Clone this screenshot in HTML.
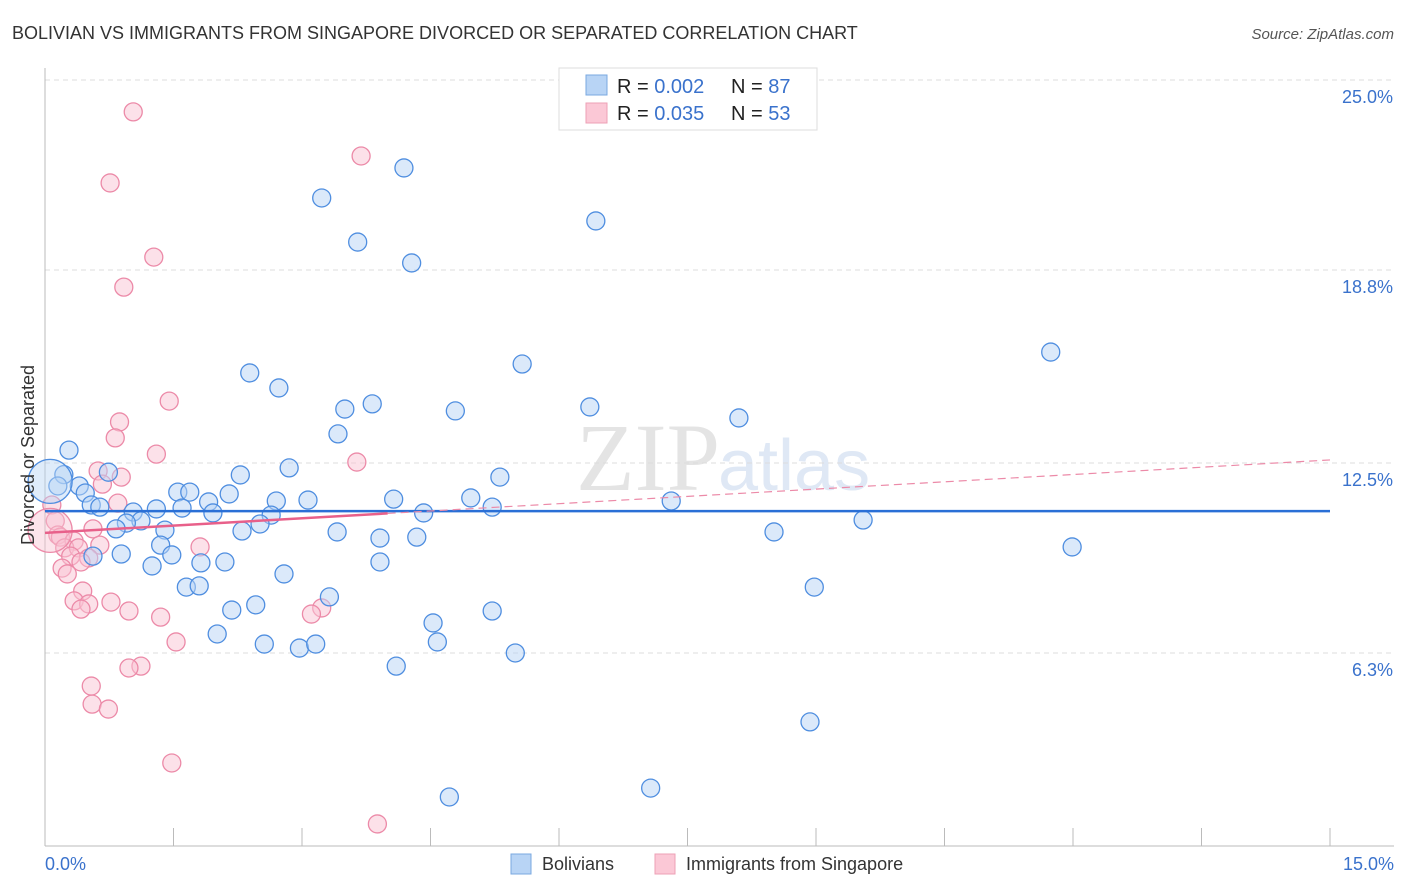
<!DOCTYPE html>
<html><head><meta charset="utf-8"><style>
body{margin:0;background:#fff;font-family:"Liberation Sans",sans-serif;}
svg{display:block}
</style></head><body>
<svg id="chart" width="1406" height="892" xmlns="http://www.w3.org/2000/svg">
<text x="12" y="39" font-size="18" fill="#333">BOLIVIAN VS IMMIGRANTS FROM SINGAPORE DIVORCED OR SEPARATED CORRELATION CHART</text>
<text x="1394" y="39" font-size="15" fill="#555" font-style="italic" text-anchor="end">Source: ZipAtlas.com</text>
<text x="720" y="490" font-size="96" fill="#e4e4e4" text-anchor="end" font-family="Liberation Serif">ZIP</text>
<text x="718" y="490" font-size="72" fill="#dfe8f5">atlas</text>
<g id="grid"></g>
<g id="axes"></g>
<g id="pts"></g>
<g id="trend"></g>
<text x="34" y="455" font-size="18" fill="#333" text-anchor="middle" transform="rotate(-90 34 455)">Divorced or Separated</text>
<text x="45" y="870" font-size="18" fill="#3a72cc">0.0%</text>
<text x="1394" y="870" font-size="18" fill="#3a72cc" text-anchor="end">15.0%</text>
<g>
<rect x="511" y="854" width="20" height="20" fill="#b8d4f5" stroke="#7aa8e0"/>
<text x="542" y="870" font-size="18" fill="#333">Bolivians</text>
<rect x="655" y="854" width="20" height="20" fill="#fbc8d6" stroke="#eea0b6"/>
<text x="686" y="870" font-size="18" fill="#333">Immigrants from Singapore</text>
</g>
<g>
<rect x="559" y="68" width="258" height="62" fill="#fff" stroke="#ddd"/>
<rect x="586" y="75" width="21" height="20" fill="#b8d4f5" stroke="#7aa8e0"/>
<rect x="586" y="103" width="21" height="20" fill="#fbc8d6" stroke="#eea0b6"/>
<text x="617" y="93" font-size="20" fill="#222">R = <tspan fill="#3a72cc">0.002</tspan><tspan x="731">N = </tspan><tspan fill="#3a72cc">87</tspan></text>
<text x="617" y="120" font-size="20" fill="#222">R = <tspan fill="#3a72cc">0.035</tspan><tspan x="731">N = </tspan><tspan fill="#3a72cc">53</tspan></text>
</g>
</svg>
<script>
const yTicks=[25.0,18.8,12.5,6.3];
const yTickLabels=["25.0%","18.8%","12.5%","6.3%"];
const xTicks=[0,1.5,3,4.5,6,7.5,9,10.5,12,13.5,15];
const blueX=[4.19,3.23,6.43,3.65,4.28,11.74,5.57,2.39,2.73,3.82,3.50,4.79,6.36,8.10,3.42,0.28,2.85,2.28,5.31,0.22,0.74,0.15,0.40,0.47,1.55,1.69,2.15,1.91,2.70,3.07,4.07,4.97,7.31,0.54,0.64,1.03,1.30,1.60,1.96,2.64,4.42,5.22,1.12,0.95,0.83,2.51,2.30,1.40,3.41,3.91,4.34,8.51,9.55,1.35,0.89,0.56,1.48,11.99,1.25,1.82,2.10,3.91,2.79,1.65,1.80,8.98,3.32,2.46,2.18,5.22,4.53,2.01,2.56,2.97,3.16,4.58,5.49,4.10,8.93,4.72,7.07,0.06];
const blueY=[22.13,21.15,20.40,19.71,19.03,16.12,15.73,15.44,14.95,14.43,14.26,14.20,14.33,13.97,13.45,12.92,12.34,12.11,12.04,12.12,12.20,11.75,11.75,11.52,11.55,11.55,11.49,11.23,11.26,11.29,11.32,11.36,11.26,11.13,11.06,10.90,11.00,11.03,10.87,10.80,10.87,11.06,10.61,10.54,10.35,10.51,10.28,10.31,10.25,10.05,10.08,10.25,10.64,9.82,9.53,9.46,9.50,9.76,9.14,9.24,9.27,9.27,8.88,8.45,8.49,8.45,8.13,7.87,7.70,7.67,7.28,6.92,6.59,6.46,6.59,6.66,6.30,5.87,4.05,1.60,1.89,11.9];
const pinkX=[1.03,3.69,0.76,1.27,0.92,1.45,0.87,0.82,1.30,3.64,0.62,0.89,0.67,0.85,0.08,0.12,0.56,0.15,0.18,0.34,0.64,0.23,0.39,1.81,0.30,0.51,0.42,0.20,0.26,0.44,0.34,0.51,0.77,0.42,0.98,1.35,3.23,3.11,1.53,1.12,0.98,0.54,0.55,0.74,1.48,3.88,0.06];
const pinkY=[23.96,22.52,21.64,19.22,18.24,14.52,13.84,13.32,12.79,12.53,12.24,12.04,11.81,11.19,11.13,10.61,10.35,10.15,10.08,9.95,9.82,9.73,9.73,9.76,9.46,9.40,9.27,9.07,8.88,8.32,8.00,7.90,7.96,7.73,7.67,7.47,7.77,7.57,6.66,5.87,5.81,5.22,4.63,4.47,2.71,0.72,10.3];
const blueTrend=[10.93,10.93];
const pinkTrend=[10.22,12.60];
const pinkSolidEnd=4.0;
const NS="http://www.w3.org/2000/svg";
const X0=45,X1=1330,Y25=80,PXPER=30.64;
const sx=v=>X0+(X1-X0)*v/15;
const sy=v=>Y25+(25-v)*PXPER;
function mk(tag,attrs,parent){const e=document.createElementNS(NS,tag);for(const k in attrs)e.setAttribute(k,attrs[k]);parent.appendChild(e);return e;}
const grid=document.getElementById('grid'),axes=document.getElementById('axes'),pts=document.getElementById('pts'),tr=document.getElementById('trend');
yTicks.forEach((t,i)=>{
 const l=mk('line',{x1:X0,x2:1394,y1:sy(t),y2:sy(t),stroke:'#ddd','stroke-dasharray':'5,4'},grid);
 
 
 const tx=mk('text',{x:1393,y:sy(t)+23,'font-size':18,fill:'#3a72cc','text-anchor':'end'},grid);
 tx.textContent=yTickLabels[i];
 
 
});
const ya=mk('line',{x1:X0,x2:X0,y1:68,y2:846,stroke:'#bbb'},axes);


const xa=mk('line',{x1:X0,x2:1394,y1:846,y2:846,stroke:'#bbb'},axes);


xTicks.forEach(t=>{
 const l=mk('line',{x1:sx(t),x2:sx(t),y1:828,y2:846,stroke:'#bbb'},axes);
 
 
});
function dots(xs,ys,fill,stroke,name){
 xs.forEach((x,i)=>{
  const big=i===xs.length-1;
  const c=mk('circle',{cx:sx(x),cy:sy(ys[i]),r:big?22:9,fill:fill,'fill-opacity':big?0.45:0.5,stroke:stroke,'stroke-width':1.3},pts);
  
  
 });
}
dots(pinkX,pinkY,'#f9c3d3','#ec8aa8','singapore-point');
dots(blueX,blueY,'#b8d4f5','#4f8ee0','bolivian-point');
const bl=mk('line',{x1:sx(0),x2:sx(15),y1:sy(blueTrend[0]),y2:sy(blueTrend[1]),stroke:'#2a6fd6','stroke-width':2.5},tr);


const pAt=x=>pinkTrend[0]+(pinkTrend[1]-pinkTrend[0])*x/15;
const pd=mk('line',{x1:sx(pinkSolidEnd),x2:sx(15),y1:sy(pAt(pinkSolidEnd)),y2:sy(pinkTrend[1]),stroke:'#ec8aa8','stroke-width':1.2,'stroke-dasharray':'8,5'},tr);


const ps=mk('line',{x1:sx(0),x2:sx(pinkSolidEnd),y1:sy(pinkTrend[0]),y2:sy(pAt(pinkSolidEnd)),stroke:'#e8608a','stroke-width':2.5},tr);


</script>
</body></html>
